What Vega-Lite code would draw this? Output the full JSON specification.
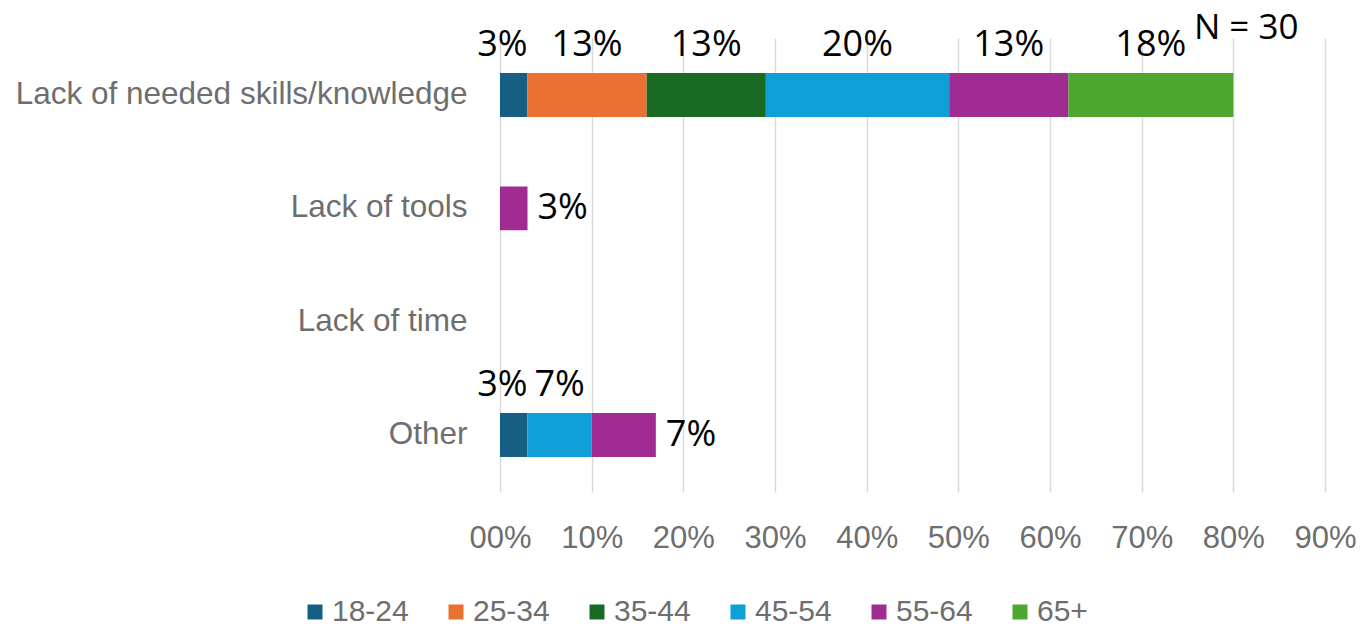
{
  "$schema": "https://vega.github.io/schema/vega-lite/v6.json",
  "width": 825,
  "height": 454,
  "autosize": {"type": "none"},
  "padding": {"left": 500, "top": 38, "right": 37, "bottom": 139},
  "background": "white",
  "config": {"view": {"stroke": null}},
  "data": {
    "values": [
      {"cat": "Lack of needed skills/knowledge", "age": "18-24", "value": 0.03},
      {"cat": "Lack of needed skills/knowledge", "age": "25-34", "value": 0.13},
      {"cat": "Lack of needed skills/knowledge", "age": "35-44", "value": 0.13},
      {"cat": "Lack of needed skills/knowledge", "age": "45-54", "value": 0.20},
      {"cat": "Lack of needed skills/knowledge", "age": "55-64", "value": 0.13},
      {"cat": "Lack of needed skills/knowledge", "age": "65+", "value": 0.18},
      {"cat": "Lack of tools", "age": "55-64", "value": 0.03},
      {"cat": "Other", "age": "18-24", "value": 0.03},
      {"cat": "Other", "age": "45-54", "value": 0.07},
      {"cat": "Other", "age": "55-64", "value": 0.07}
    ]
  },
  "transform": [
    {"stack": "value", "groupby": ["cat"], "sort": [{"field": "age"}], "as": ["x0", "x1"]},
    {"calculate": "(datum.x0 + datum.x1) / 2", "as": "xm"}
  ],
  "encoding": {
    "y": {
      "field": "cat",
      "type": "nominal",
      "scale": {
        "domain": ["Lack of needed skills/knowledge", "Lack of tools", "Lack of time", "Other"],
        "paddingInner": 0.612,
        "paddingOuter": 0.31
      },
      "axis": {
        "title": null,
        "domain": false,
        "ticks": false,
        "labelPadding": 33,
        "labelFont": "Liberation Sans",
        "labelFontSize": 31.5,
        "labelColor": "#6e6e6e",
        "labelLimit": 600
      }
    }
  },
  "layer": [
    {
      "mark": {"type": "bar"},
      "encoding": {
        "x": {
          "field": "x0",
          "type": "quantitative",
          "scale": {"domain": [0, 0.9], "nice": false},
          "axis": {
            "title": null,
            "values": [0, 0.1, 0.2, 0.3, 0.4, 0.5, 0.6, 0.7, 0.8, 0.9],
            "labelExpr": "datum.value == 0 ? '00%' : format(datum.value, '.0%')",
            "labelOverlap": false,
            "labelFlush": false,
            "domain": false,
            "ticks": false,
            "grid": true,
            "gridColor": "#d9d9d9",
            "gridWidth": 1.5,
            "labelPadding": 31,
            "labelFont": "Liberation Sans",
            "labelFontSize": 31,
            "labelColor": "#6e6e6e"
          }
        },
        "x2": {"field": "x1"},
        "color": {
          "field": "age",
          "type": "nominal",
          "scale": {
            "domain": ["18-24", "25-34", "35-44", "45-54", "55-64", "65+"],
            "range": ["#156082", "#E97132", "#196B24", "#0F9ED5", "#A02B93", "#4EA72E"]
          },
          "legend": {
            "title": null,
            "orient": "none",
            "direction": "horizontal",
            "legendX": -200,
            "legendY": 559,
            "symbolType": "square",
            "symbolSize": 225,
            "symbolStrokeWidth": 0,
            "symbolOpacity": 1,
            "labelOffset": 2,
            "columnPadding": 32,
            "labelLimit": 400,
            "labelFont": "Liberation Sans",
            "labelFontSize": 30,
            "labelColor": "#6e6e6e"
          }
        }
      }
    },
    {
      "transform": [{"filter": "datum.age != '18-24' && !(datum.cat == 'Lack of tools' || (datum.cat == 'Other' && datum.age == '55-64'))"}],
      "mark": {"type": "text", "dy": -50, "baseline": "middle", "align": "center", "font": "Open Sans", "fontSize": 36, "color": "#000000"},
      "encoding": {
        "x": {"field": "xm", "type": "quantitative"},
        "text": {"field": "value", "type": "quantitative", "format": ".0%"}
      }
    },
    {
      "transform": [{"filter": "datum.age == '18-24'"}],
      "mark": {"type": "text", "dy": -50, "baseline": "middle", "align": "right", "font": "Open Sans", "fontSize": 36, "color": "#000000"},
      "encoding": {
        "x": {"field": "x1", "type": "quantitative"},
        "text": {"field": "value", "type": "quantitative", "format": ".0%"}
      }
    },
    {
      "transform": [{"filter": "datum.cat == 'Lack of tools' || (datum.cat == 'Other' && datum.age == '55-64')"}],
      "mark": {"type": "text", "dx": 10, "baseline": "middle", "align": "left", "font": "Open Sans", "fontSize": 36, "color": "#000000"},
      "encoding": {
        "x": {"field": "x1", "type": "quantitative"},
        "text": {"field": "value", "type": "quantitative", "format": ".0%"}
      }
    },
    {
      "data": {"values": [{"cat": "Lack of needed skills/knowledge", "note": "N = 30", "pos": 0.814}]},
      "transform": [],
      "mark": {"type": "text", "dy": -67, "baseline": "middle", "align": "center", "font": "Open Sans", "fontSize": 35, "color": "#000000"},
      "encoding": {
        "x": {"field": "pos", "type": "quantitative"},
        "text": {"field": "note"}
      }
    }
  ]
}
